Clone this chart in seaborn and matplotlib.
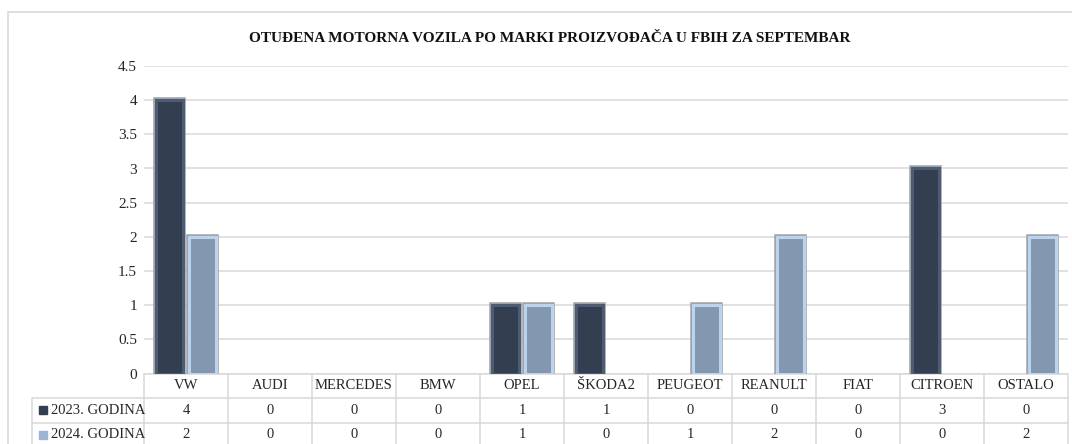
import numpy as np
import pandas as pd
import seaborn as sns
import matplotlib.pyplot as plt
import matplotlib.patches as patches
import matplotlib.patheffects as pe

# Data
marke = ["VW", "AUDI", "MERCEDES", "BMW", "OPEL", "ŠKODA2", "PEUGEOT",
         "REANULT", "FIAT", "CITROEN", "OSTALO"]
godine = ["2023. GODINA", "2024. GODINA"]
vrijednosti_2023 = [4, 0, 0, 0, 1, 1, 0, 0, 0, 3, 0]
vrijednosti_2024 = [2, 0, 0, 0, 1, 0, 1, 2, 0, 0, 2]
naslov = "OTUĐENA MOTORNA VOZILA PO MARKI PROIZVOĐAČA U FBIH ZA SEPTEMBAR"

df = pd.DataFrame({
    "marka": marke * 2,
    "godina": [godine[0]] * len(marke) + [godine[1]] * len(marke),
    "broj": vrijednosti_2023 + vrijednosti_2024,
})

dark = "#333f50"
light = "#8497b0"
grid_col = "#d9d9d9"

sns.set_style("white")
plt.rcParams["font.family"] = ["Liberation Serif", "DejaVu Serif"]

W, H = 1072, 444
fig = plt.figure(figsize=(W / 100, H / 100), dpi=100)
# plot area in pixels
left_px, right_px, top_px, bottom_px = 144, 1068, 66, 373.5
ax = fig.add_axes([left_px / W, 1 - bottom_px / H,
                   (right_px - left_px) / W, (bottom_px - top_px) / H])

# outer chart border
fig.patches.append(patches.Rectangle((8 / W, -0.05), 1.1, 1 - 12 / H + 0.05,
                                     transform=fig.transFigure, fill=False,
                                     edgecolor=grid_col, linewidth=1.2))

sns.barplot(data=df, x="marka", y="broj", hue="godina", order=marke,
            hue_order=godine, palette=[dark, light], width=0.77, gap=0.16,
            legend=False, saturation=1, ax=ax, zorder=3)

n = len(marke)
for i, bar in enumerate(ax.patches):
    if bar.get_height() == 0:
        bar.set_visible(False)
        continue
    if i < n:
        bar.set_edgecolor("#4b5c74")
    else:
        bar.set_edgecolor("#bcd3ee")
    bar.set_linewidth(2.2)
    bar.set_path_effects([pe.Stroke(linewidth=4, foreground="#a0a4a8"), pe.Normal()])

ax.set_xlim(-0.5, n - 0.5)
ax.set_ylim(0, 4.5)
ax.set_yticks(np.arange(0, 4.51, 0.5))
ax.set_yticklabels([f"{v:g}" for v in np.arange(0, 4.51, 0.5)], fontsize=11)
ax.tick_params(axis="y", length=0, pad=5)
ax.set_xticks([])
ax.set_xlabel("")
ax.set_ylabel("")
ax.grid(axis="y", color=grid_col, linewidth=1.1, zorder=0)
for s in ax.spines.values():
    s.set_visible(False)

fig.text(550 / W, 1 - 38 / H, naslov, ha="center", va="center",
         fontsize=11, fontweight="bold", color="#111111")

# data table below the plot
tr = ax.get_xaxis_transform()
row_h = 24.5 / (bottom_px - top_px)
label_x0 = -0.5 - (left_px - 32) / ((right_px - left_px) / n)
kw = dict(color=grid_col, linewidth=1.1, transform=tr, clip_on=False)
fs = 10.5

# horizontal lines
ax.plot([-0.5, n - 0.5], [0, 0], **kw)
for r in range(1, 4):
    ax.plot([label_x0, n - 0.5], [-r * row_h, -r * row_h], **kw)
# vertical lines
for k in range(n + 1):
    ax.plot([k - 0.5, k - 0.5], [0, -3 * row_h], **kw)
ax.plot([label_x0, label_x0], [-row_h, -3 * row_h], **kw)

for i, m in enumerate(marke):
    ax.text(i, -0.5 * row_h, m, ha="center", va="center", fontsize=fs,
            transform=tr, clip_on=False)
    ax.text(i, -1.5 * row_h, str(vrijednosti_2023[i]), ha="center",
            va="center", fontsize=fs, transform=tr, clip_on=False)
    ax.text(i, -2.5 * row_h, str(vrijednosti_2024[i]), ha="center",
            va="center", fontsize=fs, transform=tr, clip_on=False)

sq_x = label_x0 + 11 / ((right_px - left_px) / n)
for r, (g, c) in enumerate(zip(godine, [dark, "#9db4d3"])):
    y = -(1.5 + r) * row_h
    ax.plot([sq_x], [y], marker="s", markersize=6, color=c,
            transform=tr, clip_on=False)
    ax.text(sq_x + 0.09, y, g, ha="left", va="center", fontsize=fs,
            transform=tr, clip_on=False)

fig.savefig("out.png", dpi=100)
